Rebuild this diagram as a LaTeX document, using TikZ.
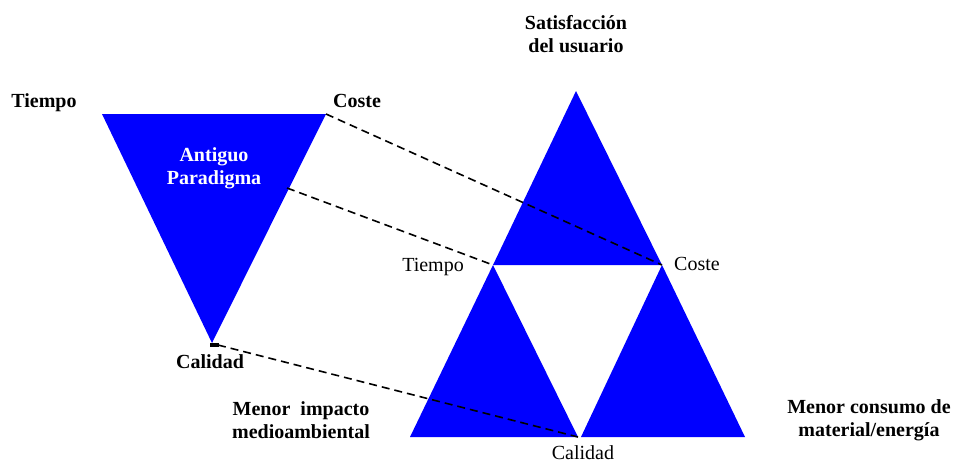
\documentclass[tikz,border=0pt]{standalone}
\usepackage{fontspec}
\setmainfont{Liberation Serif}
\begin{document}
\begin{tikzpicture}[x=1pt,y=-1pt,
  tri/.style={fill=pureblue,draw=none},
  conn/.style={line width=1.6pt,dash pattern=on 8pt off 5pt},
  lbl/.style={font=\fontsize{20}{23}\selectfont\bfseries,align=center,inner sep=0pt},
  nlbl/.style={font=\fontsize{20}{23}\selectfont,align=center,inner sep=0pt}]
\definecolor{pureblue}{RGB}{0,0,255}
\useasboundingbox (0,0) rectangle (954,463);
% left inverted triangle
\coordinate (LTL) at (102,114);
\coordinate (LTR) at (326,114);
\coordinate (LB) at (212,343);
\coordinate (LM) at (287,188);
\fill[tri] (LTL) -- (LTR) -- (LB) -- cycle;
\fill[black] (210,343) rectangle (219,347);
\coordinate (LBt) at (218,345);
% right triangles
\coordinate (A) at (576,91);
\coordinate (T) at (493,265);
\coordinate (C) at (662,265);
\coordinate (BL) at (410,437);
\coordinate (BM) at (578,437);
\coordinate (BM2) at (581,437);
\coordinate (BR) at (745,437);
\fill[tri] (A) -- (T) -- (C) -- cycle;
\fill[tri] (T) -- (BL) -- (BM) -- cycle;
\fill[tri] (C) -- (BM2) -- (BR) -- cycle;
% connectors
\draw[conn] (LTR) -- (C);
\draw[conn] (LM) -- (T);
\draw[conn] (LBt) -- (BM);
% labels
\node[lbl] (sat) at (576,34) {Satisfacción\\del usuario};
\node[lbl] (tl) at (44,103) {Tiempo};
\node[lbl] (cl) at (357,101) {Coste};
\node[lbl,text=white] (ap) at (214,168) {Antiguo\\Paradigma};
\node[lbl] (cal) at (210,362) {Calidad};
\node[nlbl] (tr) at (433,267) {Tiempo};
\node[nlbl] (cr) at (697,264) {Coste};
\node[nlbl] (calr) at (583,453) {Calidad};
\node[lbl] (mi) at (301,420) {Menor\ \ impacto\\medioambiental};
\node[lbl] (mc) at (869,420) {Menor consumo de\\material/energía};
\end{tikzpicture}
\end{document}
